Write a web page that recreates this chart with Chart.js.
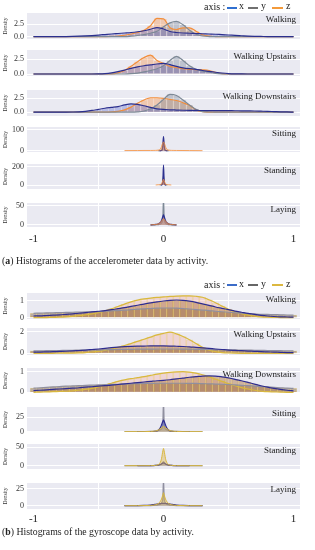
<!DOCTYPE html>
<html><head><meta charset="utf-8">
<script src="https://cdn.jsdelivr.net/npm/chart.js@4.4.0/dist/chart.umd.min.js"></script>
<style>
html,body{margin:0;padding:0;background:#fff;}
body{width:315px;height:550px;position:relative;overflow:hidden;font-family:'Liberation Serif',serif;}
.t{position:absolute;white-space:nowrap;color:#222;line-height:1;z-index:5;}
.ln{position:absolute;height:2px;z-index:5;}
</style></head><body>
<script>
// ---------- data ----------
const activities = ['Walking', 'Walking Upstairs', 'Walking Downstairs', 'Sitting', 'Standing', 'Laying'];
const axisNames = ['x', 'y', 'z'];
const xTickVals = [-1, 0, 1];
const xTickLabels = ['-1', '0', '1'];
const xGrid = [-1,-0.95,-0.9,-0.85,-0.8,-0.75,-0.7,-0.65,-0.6,-0.55,-0.5,-0.45,-0.4,-0.35,-0.3,-0.25,-0.2,-0.15,-0.1,-0.05,0,0.05,0.1,0.15,0.2,0.25,0.3,0.35,0.4,0.45,0.5,0.55,0.6,0.65,0.7,0.75,0.8,0.85,0.9,0.95,1];
const xFine = [-0.3,-0.2,-0.15,-0.1,-0.08,-0.06,-0.05,-0.04,-0.03,-0.02,-0.015,-0.01,-0.005,0,0.005,0.01,0.015,0.02,0.03,0.04,0.05,0.06,0.08,0.1,0.15,0.2,0.3];

// accelerometer (a)  (null = no density drawn there)
const accWalkX = [0,0,0,0,0.01,0.03,0.06,0.1,0.16,0.24,0.33,0.44,0.55,0.65,0.75,0.85,1.0,1.2,1.5,1.85,1.55,1.05,0.85,0.75,0.7,0.65,0.6,0.55,0.5,0.42,0.35,0.27,0.2,0.13,0.08,0.05,0.02,0.01,0,0,0];
const accWalkY = [0,0,0,0,0,0,0,0,0,0,0,0,0,0,0,0.1,0.25,0.45,0.7,1.1,2.0,2.8,3.1,2.4,1.3,0.5,0.15,0.03,0,0,0,0,0,0,0,0,0,0,0,0,0];
const accWalkZ = [0,0,0,0,0,0,0,0,0,0,0,0.02,0.06,0.15,0.3,0.55,0.85,1.3,2.2,3.7,3.6,1.8,1.45,1.8,1.8,1.1,0.4,0.12,0.03,0,0,0,0,0,0,0,0,0,0,0,0];
const accUpX = [0,0,0,0,0,0,0,0,0,0,0.02,0.08,0.2,0.4,0.65,0.95,1.2,1.4,1.55,1.7,1.8,1.6,1.3,1.05,0.9,0.8,0.6,0.45,0.3,0.17,0.08,0.03,0.01,0,0,0,0,0,0,0,0];
const accUpY = [0,0,0,0,0,0,0,0,0,0,0,0,0,0,0,0.05,0.15,0.35,0.6,0.9,1.4,2.3,3.0,2.3,1.4,0.8,0.5,0.3,0.12,0.03,0,0,0,0,0,0,0,0,0,0,0];
const accUpZ = [0,0,0,0,0,0,0,0,0,0,0,0,0.02,0.2,0.6,1.3,2.1,2.8,3.2,2.3,1.8,1.3,1.1,0.9,0.8,0.75,0.7,0.6,0.3,0.05,0,0,0,0,0,0,0,0,0,0,0];
const accDownX = [0,0,0,0,0,0,0.02,0.06,0.15,0.3,0.5,0.7,0.85,1.0,1.3,1.5,1.4,1.15,0.85,0.6,0.48,0.42,0.38,0.34,0.31,0.3,0.29,0.28,0.27,0.27,0.26,0.25,0.24,0.22,0.2,0.17,0.14,0.1,0.06,0.03,0.01];
const accDownY = [0,0,0,0,0,0,0,0,0,0,0,0,0,0,0,0,0.05,0.2,0.6,1.3,2.3,3.2,3.0,2.2,1.3,0.5,0.1,0.02,0,0,0,0,0,0,0,0,0,0,0,0,0];
const accDownZ = [0,0,0,0,0,0,0,0,0,0,0,0,0.03,0.15,0.4,0.9,1.6,2.2,2.6,2.6,2.5,2.3,2.1,1.7,1.2,0.4,0.08,0.01,0,0,0,0,0,0,0,0,0,0,0,0,0];
const accSitX = [null,null,null,null,null,null,null,null,0,0.5,1,3,30,68,30,3,1,0.5,0,null,null,null,null,null,null,null,null];
const accSitY = [null,null,null,null,null,null,null,0,0.3,1,3,8,22,40,22,8,3,1,0.3,0,null,null,null,null,null,null,null];
const accSitZ = [0.5,0.8,1,1,1.2,1.5,2,3,5,12,20,30,38,42,38,30,20,12,5,3,2,1.5,1.2,1,0.9,0.6,0.2];
const accStdX = [null,null,null,null,null,null,null,null,null,0,2,5,40,218,40,5,2,0,null,null,null,null,null,null,null,null,null];
const accStdY = [null,null,null,null,null,null,null,null,0,1,3,10,40,100,40,10,3,1,0,null,null,null,null,null,null,null,null];
const accStdZ = [null,null,null,null,null,0,1.3,2,4,8,16,30,48,62,48,30,16,8,4,2,1.3,0,null,null,null,null,null];
const accLayX = [null,null,null,0,0.8,1.5,2,3,5,8,12,17,22,26,22,17,12,8,5,3,2,1.5,0.8,0,null,null,null];
const accLayY = [null,null,null,0,0.3,0.5,0.8,1,2,3,5,8,18,70,18,8,5,3,2,1,0.8,0.5,0.3,0,null,null,null];
const accLayZ = [null,null,null,0.2,0.9,1.3,2,3,5,8,10,13,15,17,15,13,10,8,5,3,2,1.3,0.9,0.2,null,null,null];
const accTickVals = [[0,2.5],[0,2.5],[0,2.5],[0,100],[0,200],[0,50]];
const accTickLabels = [['0.0','2.5'],['0.0','2.5'],['0.0','2.5'],['0','100'],['0','200'],['0','50']];

// gyroscope (b)
const gyrWalkX = [0.1,0.11,0.13,0.15,0.17,0.2,0.23,0.26,0.3,0.34,0.38,0.42,0.47,0.53,0.59,0.66,0.73,0.8,0.87,0.93,0.98,1.02,1.04,1.02,0.97,0.9,0.81,0.72,0.63,0.55,0.47,0.39,0.32,0.25,0.19,0.14,0.1,0.07,0.05,0.04,0.03];
const gyrWalkY = [0.26,0.27,0.28,0.29,0.3,0.31,0.32,0.33,0.34,0.35,0.36,0.38,0.4,0.42,0.44,0.47,0.5,0.52,0.54,0.56,0.57,0.57,0.56,0.54,0.51,0.48,0.45,0.42,0.38,0.35,0.32,0.29,0.26,0.24,0.22,0.2,0.19,0.18,0.17,0.16,0.15];
const gyrWalkZ = [0,0,0.01,0.02,0.03,0.05,0.08,0.12,0.17,0.23,0.3,0.4,0.52,0.66,0.8,0.93,1.03,1.1,1.15,1.19,1.22,1.25,1.27,1.28,1.28,1.26,1.2,1.05,0.88,0.68,0.5,0.35,0.24,0.15,0.09,0.05,0.03,0.02,0.01,0,0];
const gyrUpX = [0.1,0.11,0.13,0.15,0.17,0.19,0.22,0.26,0.3,0.35,0.4,0.46,0.52,0.57,0.61,0.64,0.66,0.67,0.68,0.68,0.68,0.67,0.65,0.63,0.6,0.55,0.5,0.45,0.4,0.35,0.3,0.27,0.24,0.21,0.18,0.15,0.13,0.11,0.09,0.07,0.06];
const gyrUpY = [0.22,0.23,0.24,0.25,0.26,0.27,0.28,0.29,0.3,0.31,0.32,0.33,0.34,0.35,0.36,0.37,0.38,0.39,0.39,0.4,0.4,0.4,0.4,0.39,0.38,0.37,0.36,0.35,0.34,0.33,0.32,0.31,0.3,0.29,0.28,0.27,0.26,0.25,0.24,0.23,0.22];
const gyrUpZ = [0,0,0,0,0.01,0.01,0.02,0.04,0.07,0.12,0.18,0.27,0.4,0.55,0.72,0.9,1.1,1.3,1.5,1.7,1.85,1.95,1.8,1.55,1.25,0.9,0.55,0.3,0.15,0.07,0.03,0.01,0,0,0,0,0,0,0,0,0];
const gyrDownX = [0.08,0.1,0.12,0.14,0.16,0.18,0.2,0.22,0.25,0.27,0.3,0.32,0.35,0.38,0.41,0.44,0.47,0.5,0.53,0.56,0.58,0.61,0.65,0.69,0.73,0.76,0.79,0.8,0.79,0.75,0.7,0.63,0.56,0.48,0.4,0.32,0.25,0.19,0.14,0.1,0.07];
const gyrDownY = [0.2,0.22,0.24,0.26,0.28,0.3,0.31,0.32,0.34,0.35,0.36,0.37,0.38,0.39,0.4,0.41,0.42,0.43,0.43,0.44,0.44,0.44,0.44,0.44,0.43,0.43,0.42,0.41,0.4,0.39,0.38,0.36,0.34,0.32,0.3,0.28,0.26,0.24,0.22,0.2,0.19];
const gyrDownZ = [0,0.01,0.02,0.03,0.04,0.05,0.07,0.1,0.14,0.19,0.26,0.35,0.44,0.53,0.6,0.66,0.71,0.76,0.82,0.88,0.93,0.97,0.99,1.0,0.98,0.93,0.85,0.75,0.64,0.53,0.42,0.32,0.23,0.16,0.1,0.06,0.03,0.02,0.01,0,0];
const gyrSitX = [null,0,0.05,0.2,0.4,0.8,1.2,2.5,5,9,12,15,18,20,18,15,12,9,5,2.5,1.2,0.8,0.4,0.2,0.05,0,null];
const gyrSitY = [0,0.1,0.2,0.5,0.8,1,1.3,2,3,4,5,7,15,55,15,7,5,4,3,2,1.3,1,0.8,0.5,0.2,0.1,0];
const gyrSitZ = [0,0.05,0.15,0.5,0.8,1.3,2,3,4.5,6,7,8,8.5,9,8.5,8,7,6,4.5,3,2,1.3,0.8,0.5,0.15,0.05,0];
const gyrStdX = [null,0,0.05,0.2,0.4,0.7,1,1.5,2.5,4,5,6,7,8,7,6,5,4,2.5,1.5,1,0.7,0.4,0.2,0.05,0,null];
const gyrStdY = [0,0.05,0.1,0.3,0.5,0.8,1,1.5,2.5,3.5,5,7,9,11,9,7,5,3.5,2.5,1.5,1,0.8,0.5,0.3,0.1,0.05,0];
const gyrStdZ = [0,0.02,0.05,0.1,0.3,0.8,1.5,3,6,13,20,30,40,47,40,30,20,13,6,3,1.5,0.8,0.3,0.1,0.05,0.02,0];
const gyrLayX = [0.02,0.15,0.4,1.1,1.6,2.2,2.5,2.8,3.1,3.3,3.4,3.5,3.55,3.6,3.55,3.5,3.4,3.3,3.1,2.8,2.5,2.2,1.6,1.1,0.4,0.15,0.02];
const gyrLayY = [0,0.05,0.1,0.2,0.4,0.7,1,1.5,2,3,4,6,12,40,12,6,4,3,2,1.5,1,0.7,0.4,0.2,0.1,0.05,0];
const gyrLayZ = [0.05,0.1,0.2,0.5,0.8,1.5,2.2,3.2,5,8,10,13,16,19.5,16,13,10,8,5,3.2,2.2,1.5,0.8,0.5,0.2,0.1,0.05];
const gyrTickVals = [[0,1],[0,2],[0,1],[0,25],[0,50],[0,25]];
const gyrTickLabels = [['0','1'],['0','2'],['0','1'],['0','25'],['0','50'],['0','25']];

// ---------- layout & style ----------
const W = 308;
const groups = [
  { series: [[accWalkX,accWalkY,accWalkZ],[accUpX,accUpY,accUpZ],[accDownX,accDownY,accDownZ],[accSitX,accSitY,accSitZ],[accStdX,accStdY,accStdZ],[accLayX,accLayY,accLayZ]],
    ticks: accTickVals, tickLabels: accTickLabels,
    tops:[13,50,90,127,164,203], bottoms:[39,76,116,152,189,227],
    yMin:[-0.46,-0.34,-0.7,-6.3,-43.7,-5.2], yMax:[4.78,4.08,4.0,114,229.5,57],
    xLabelPad: 6,
    line:['#2b2f8e','#7d8996','#f28e3c'],
    hist:['rgba(70,90,205,0.32)','rgba(110,125,145,0.36)','rgba(246,150,80,0.40)'],
    fillc:['rgba(70,90,205,0.35)','rgba(110,125,145,0.3)','rgba(246,150,80,0.45)'],
    barEdge:'rgba(255,240,230,0.35)', sitZWidth: 0.8,
    legendY: 7, legendCols:['#2f6fd0','#707070','#f39a3b'],
    caption: '(<b>a</b>) Histograms of the accelerometer data by activity.', captionY: 261 },
  { series: [[gyrWalkX,gyrWalkY,gyrWalkZ],[gyrUpX,gyrUpY,gyrUpZ],[gyrDownX,gyrDownY,gyrDownZ],[gyrSitX,gyrSitY,gyrSitZ],[gyrStdX,gyrStdY,gyrStdZ],[gyrLayX,gyrLayY,gyrLayZ]],
    ticks: gyrTickVals, tickLabels: gyrTickLabels,
    tops:[293,328,368,407,444,483], bottoms:[319,355,393,432,469,509],
    yMin:[-0.076,-0.157,-0.034,-0.5,-9,-4.9], yMax:[1.45,2.34,1.18,42.9,59,33.9],
    xLabelPad: 4,
    line:['#2e2c90','#8f8f9f','#d9b83e'],
    hist:['rgba(175,120,70,0.48)','rgba(120,85,60,0.42)','rgba(245,175,165,0.38)'],
    fillc:['rgba(70,80,190,0.35)','rgba(125,125,135,0.3)','rgba(225,185,80,0.45)'],
    barEdge:'rgba(235,215,130,0.5)', sitZWidth: 1,
    legendY: 284.5, legendCols:['#3c6cc8','#666666','#dcb840'],
    caption: '(<b>b</b>) Histograms of the gyroscope data by activity.', captionY: 532 }
];

const bgPlugin = { id:'bg', beforeDraw(chart){ const {ctx, chartArea:a} = chart; ctx.save(); ctx.fillStyle = '#eaeaf2'; ctx.fillRect(a.left, a.top, a.right - a.left, a.bottom - a.top); ctx.restore(); } };
const titlePlugin = { id:'ptitle', afterDraw(chart, args, opts){ const {ctx, chartArea:a} = chart; ctx.save(); ctx.font = '9px "Liberation Serif"'; ctx.fillStyle = '#1a1a1a'; ctx.textAlign = 'right'; ctx.textBaseline = 'middle'; ctx.fillText(opts.text, a.right - 4, a.top + 6.5); ctx.restore(); } };

function addText(html, left, cy, size){
  const d = document.createElement('div'); d.className = 't'; d.innerHTML = html;
  d.style.left = left + 'px'; d.style.top = (cy - size / 2) + 'px'; d.style.fontSize = size + 'px';
  document.body.appendChild(d);
}
function addLine(left, cy, w, col){
  const d = document.createElement('div'); d.className = 'ln';
  d.style.left = left + 'px'; d.style.top = Math.round(cy - 1) + 'px'; d.style.width = w + 'px'; d.style.background = col;
  document.body.appendChild(d);
}

function makePanel(g, i){
  const last = i === 5, broad = i < 3;
  const top = g.tops[i], bottom = g.bottoms[i];
  const padT = 8, padB = last ? 2 : 8, xH = last ? 20 : 0;
  const h = bottom - top + padT + padB + xH;
  const cv = document.createElement('canvas');
  cv.width = W; cv.height = h;
  cv.style.cssText = 'position:absolute;left:0;top:' + (top - padT) + 'px;width:' + W + 'px;height:' + h + 'px';
  document.body.appendChild(cv);
  const xs = broad ? xGrid : xFine;
  const lineOrder = broad ? [1, 2, 3] : [2, 3, 1];
  const datasets = [];
  g.series[i].forEach((vals, k) => {
    const pts = xs.map((x, j) => ({x: x, y: vals[j]}));
    if (broad) datasets.push({type:'bar', label: axisNames[k] + ' hist', data: pts, backgroundColor: g.hist[k], borderColor: g.barEdge, borderWidth: 0.5, barPercentage: 1, categoryPercentage: 1, grouped: false, order: 10 + k});
    datasets.push({type:'line', label: axisNames[k], data: pts, borderColor: g.line[k], borderWidth: (!broad && k === 2) ? g.sitZWidth : 1.2, pointRadius: 0, cubicInterpolationMode: 'monotone', spanGaps: false, fill: broad ? false : 'origin', backgroundColor: g.fillc[k], order: lineOrder[k]});
  });
  new Chart(cv, {
    type: 'bar',
    data: { datasets },
    options: {
      responsive: false, animation: false, devicePixelRatio: 1,
      layout: { padding: { top: padT, bottom: padB, left: 0, right: 8 } },
      plugins: { legend: { display: false }, tooltip: { enabled: false }, ptitle: { text: activities[i] } },
      scales: {
        x: { type: 'linear', min: -1.05, max: 1.05, offset: false,
             afterBuildTicks: s => { s.ticks = xTickVals.map(v => ({value: v})); },
             afterFit: s => { s.height = xH; },
             grid: { color: '#ffffff', lineWidth: 1, drawTicks: false },
             border: { display: false },
             ticks: { display: last, padding: g.xLabelPad, font: { family: 'Liberation Serif', size: 11 }, color: '#222', maxRotation: 0, autoSkip: false, callback: (v, idx) => xTickLabels[idx] } },
        y: { min: g.yMin[i], max: g.yMax[i],
             afterBuildTicks: s => { s.ticks = g.ticks[i].map(v => ({value: v})); },
             afterFit: s => { s.width = 27; },
             grid: { color: '#ffffff', lineWidth: 1, drawTicks: false },
             border: { display: false },
             ticks: { padding: 3, font: { family: 'Liberation Serif', size: 8 }, color: '#333', autoSkip: false, callback: (v, idx) => g.tickLabels[i][idx] },
             title: { display: true, text: 'Density', font: { family: 'Liberation Serif', size: 5.5 }, color: '#333', padding: { top: 2, bottom: 0 } } }
      }
    },
    plugins: [bgPlugin, titlePlugin]
  });
}

groups.forEach(g => {
  for (let i = 0; i < 6; i++) makePanel(g, i);
  const ly = g.legendY;
  addText('axis :', 204, ly, 10);
  addLine(227, ly + 0.5, 10, g.legendCols[0]); addText(axisNames[0], 239, ly - 1, 10);
  addLine(248, ly + 0.5, 10, g.legendCols[1]); addText(axisNames[1], 261, ly - 1, 10);
  addLine(272, ly + 0.5, 11, g.legendCols[2]); addText(axisNames[2], 286, ly - 1, 10);
  addText(g.caption, 2, g.captionY, 9.8);
});
</script>
</body></html>
